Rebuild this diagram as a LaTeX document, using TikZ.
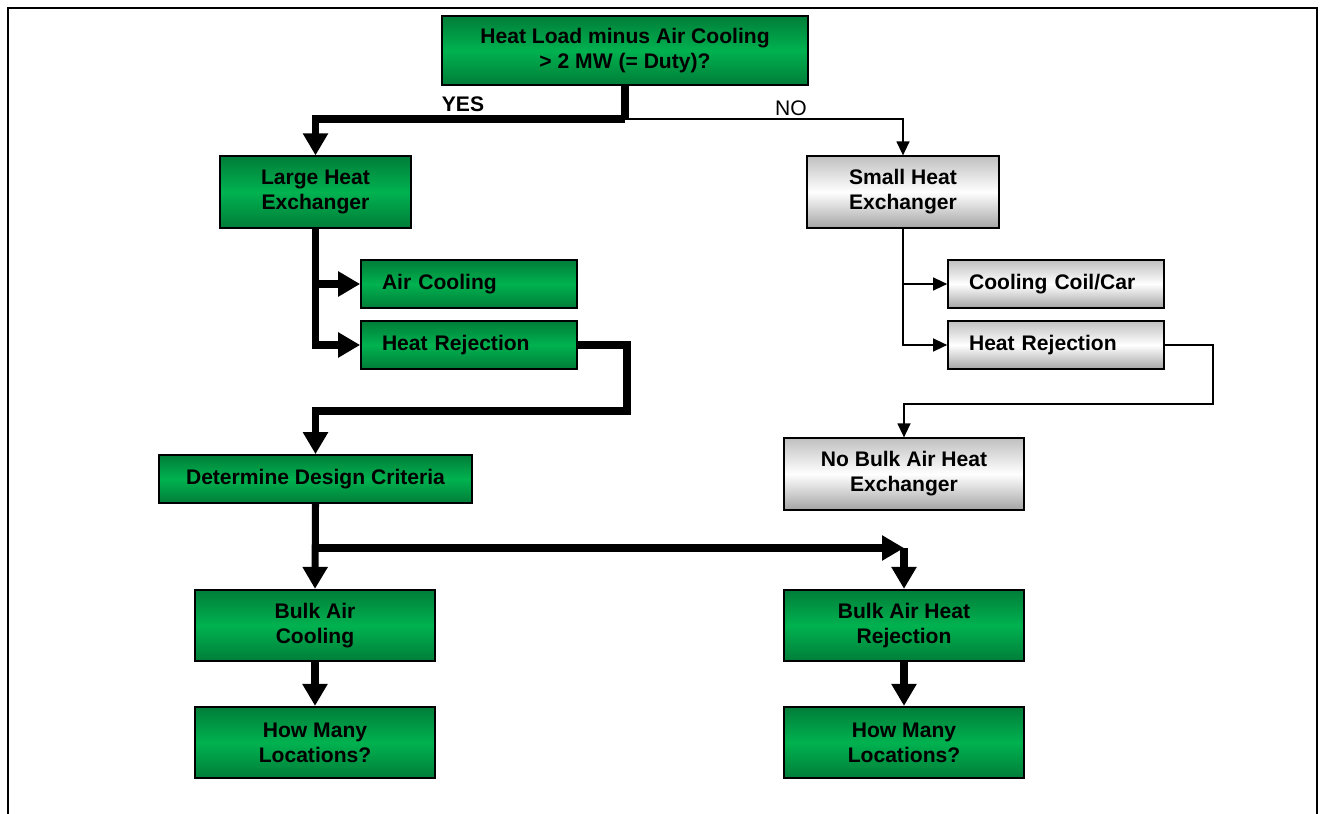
\documentclass[tikz,border=0pt]{standalone}
\usepackage{fontspec}
\setmainfont{Liberation Sans}
\usetikzlibrary{arrows.meta,positioning,calc}
\definecolor{gd}{RGB}{0,125,56}
\definecolor{gm}{RGB}{0,178,80}
\definecolor{sd}{RGB}{165,165,165}
\tikzset{box/.style={draw,line width=1pt,align=center,inner sep=0pt,minimum height=1.43cm,
  font=\bfseries\fontsize{12}{14.2}\selectfont},
 grn/.style={box,top color=gd,bottom color=gd,middle color=gm},
 gry/.style={box,top color=sd!70,bottom color=sd,middle color=white},
 lft/.style={minimum height=0.96cm,text width=3.48cm,align=left,inner xsep=0.42cm},
 fat/.style={line width=4pt},fatarr/.style={fat,-{Triangle[length=0.44cm,width=0.48cm]}},
 wire/.style={line width=0.8pt},arr/.style={wire,-{Triangle[length=0.28cm,width=0.26cm]}}}
\begin{document}
\begin{tikzpicture}[x=0.02cm,y=-0.02cm]
\useasboundingbox (0,0) rectangle (1325,814);
\draw[line width=1.2pt] (8,814)--(8,8)--(1317,8)--(1317,814);
\node[grn,minimum width=7.32cm,minimum height=1.38cm] (q) at (625,50.5) {Heat Load minus Air Cooling\\> 2 MW (= Duty)?};
\node[grn,minimum width=3.82cm] (lhx) at (315.5,192) {Large Heat\\Exchanger};
\node[grn,lft] (ac) at (469,284) {Air Cooling};\node[grn,lft] (hr) at (469,345) {Heat Rejection};
\node[grn,minimum width=6.26cm,minimum height=0.96cm] (ddc) at (315.5,479) {Determine Design Criteria};
\node[grn,minimum width=4.8cm] (bac) at (315,625.5) {Bulk Air\\Cooling};
\node[grn,minimum width=4.8cm] (bahr) at (904,625.5) {Bulk Air Heat\\Rejection};
\node[grn,minimum width=4.8cm] (hml) at (315,742.5) {How Many\\Locations?};
\node[grn,minimum width=4.8cm] (hmr) at (904,742.5) {How Many\\Locations?};
\node[gry,minimum width=3.84cm] (shx) at (903,192) {Small Heat\\Exchanger};
\node[gry,lft] (ccc) at (1056,284) {Cooling Coil/Car};\node[gry,lft] (hr2) at (1056,345) {Heat Rejection};
\node[gry,minimum width=4.8cm] (nbx) at (904,474) {No Bulk Air Heat\\Exchanger};
\coordinate (ys) at (626,119);\coordinate (hk) at (627,411);
\coordinate (bj) at (316,548);\coordinate (nk) at (1213,404);
\node[font=\bfseries\fontsize{12}{14}\selectfont] (yes) at (463,104) {YES};
\node[font=\fontsize{12}{14}\selectfont] (no) at (791,108) {NO};
\draw[fat] (q.south)--(q.south|-ys);\draw[fatarr] (q.south|-ys)-|(lhx.north);
\draw[arr] (q.south|-ys)-|(shx.north);
\draw[fatarr] (lhx.south)|-(hr.west);\draw[fatarr] (lhx.south|-ac.west)--(ac.west);
\draw[fatarr] (hr.east)-|(hk)-|(ddc.north);
\draw[fatarr] (ddc.south)--(bac.north);\draw[fatarr] (bj)--(bahr.north|-bj);
\draw[fatarr] (bahr.north|-bj)--(bahr.north);
\draw[fatarr] (bac.south)--(hml.north);\draw[fatarr] (bahr.south)--(hmr.north);
\draw[arr] (shx.south)|-(hr2.west);\draw[arr] (shx.south|-ccc.west)--(ccc.west);
\draw[arr] (hr2.east)-|(nk)-|(nbx.north);
\end{tikzpicture}
\end{document}
